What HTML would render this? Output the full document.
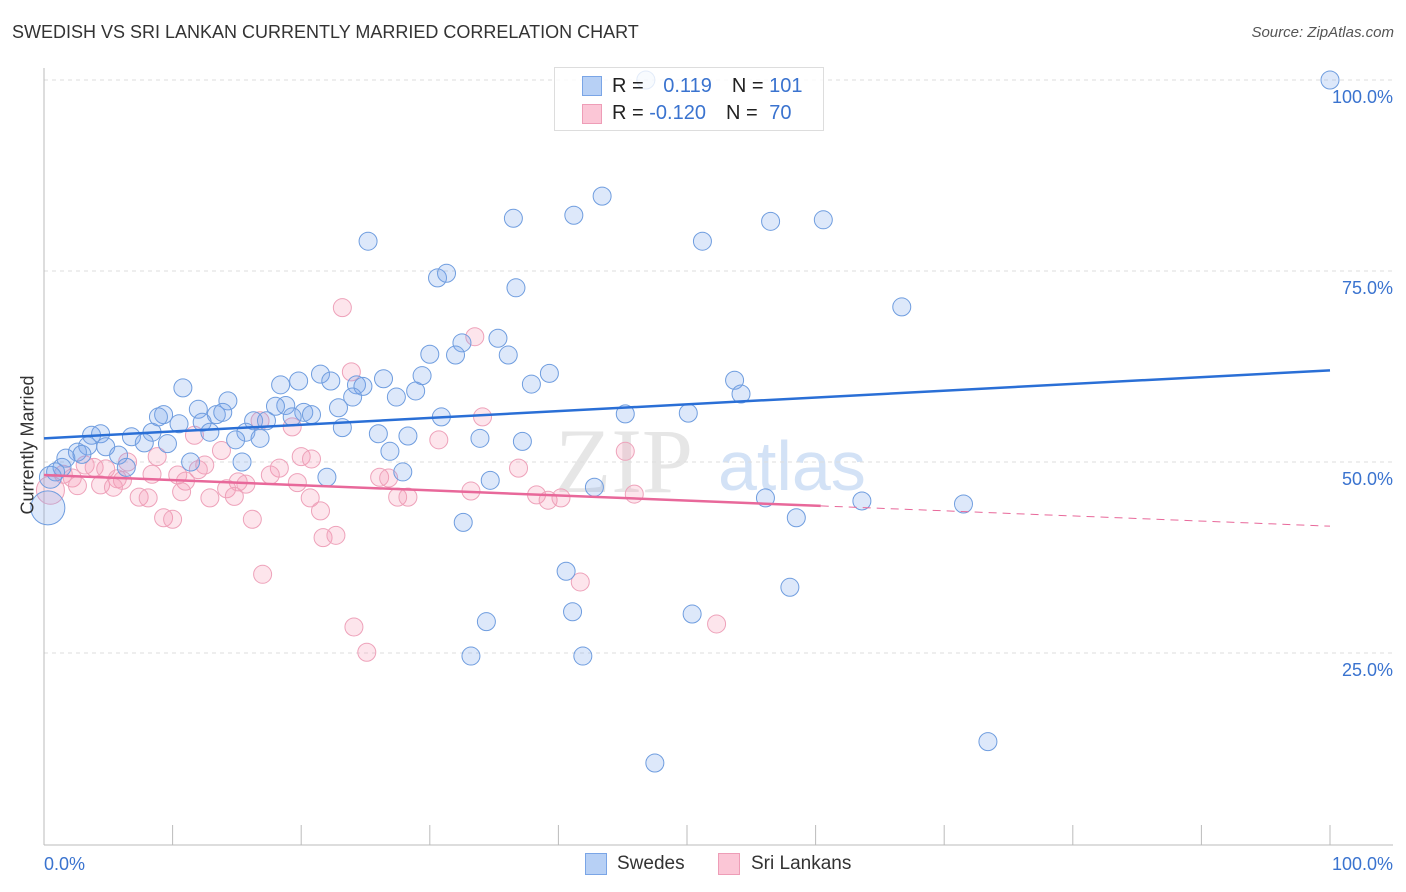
<!DOCTYPE html>
<html><head><meta charset="utf-8"><style>
body{margin:0;background:#fff;font-family:"Liberation Sans",sans-serif;}
#c{position:relative;width:1406px;height:892px;overflow:hidden}
.t{position:absolute;white-space:nowrap}
</style></head><body>
<div id="c">
<div class="t" style="left:12px;top:22px;font-size:18px;color:#333">SWEDISH VS SRI LANKAN CURRENTLY MARRIED CORRELATION CHART</div>
<div class="t" style="right:12px;top:24px;font-size:15px;color:#555;font-style:italic">Source: ZipAtlas.com</div>
<svg id="s" width="1406" height="892" style="position:absolute;left:0;top:0">
<text x="555" y="492" font-size="92" font-family="Liberation Serif" fill="#e6e6e6">ZIP</text>
<text x="718" y="490" font-size="70" fill="#d3e2f6">atlas</text>
</svg>
<div class="t" style="left:-32px;top:444px;font-size:18px;color:#333;transform:rotate(-90deg);transform-origin:center;width:120px;text-align:center">Currently Married</div>
<div style="position:absolute;left:554px;top:67px;width:268px;height:62px;border:1px solid #ddd;background:rgba(255,255,255,0.8)">
<div style="position:absolute;left:27px;top:8px;width:18px;height:18px;background:#b7d0f5;border:1px solid #7aa5e6"></div>
<div class="t" style="left:57px;top:7px;font-size:20px;color:#222">R = <span style="color:#3a73cf;margin-left:14px">0.119</span><span style="margin-left:20px">N = </span><span style="color:#3a73cf">101</span></div>
<div style="position:absolute;left:27px;top:36px;width:18px;height:18px;background:#fbc6d6;border:1px solid #ee9db7"></div>
<div class="t" style="left:57px;top:34px;font-size:20px;color:#222">R = <span style="color:#3a73cf">-0.120</span><span style="margin-left:20px">N = </span><span style="color:#3a73cf;margin-left:6px">70</span></div>
</div>
<div>
<div style="position:absolute;left:585px;top:853px;width:20px;height:20px;background:#b7d0f5;border:1px solid #7aa5e6"></div>
<div class="t" style="left:617px;top:853px;font-size:19px;color:#333">Swedes</div>
<div style="position:absolute;left:718px;top:853px;width:20px;height:20px;background:#fbc6d6;border:1px solid #ee9db7"></div>
<div class="t" style="left:751px;top:853px;font-size:19px;color:#333">Sri Lankans</div>
</div>
</div>
<script>
const blueX=[46.8,100,43.4,41.2,36.5,56.5,60.6,25.2,51.2,30.6,31.3,36.7,66.7,35.3,32.5,30.0,32.0,36.1,39.3,29.4,21.5,26.4,53.7,19.8,22.3,24.3,24.8,37.9,54.2,18.4,10.8,28.9,14.3,18.8,18.0,27.4,24.0,22.9,12.0,9.3,8.9,13.4,13.9,20.2,20.8,19.3,30.9,45.2,50.1,12.3,16.3,17.3,10.5,23.2,8.4,12.9,15.7,3.7,4.4,6.8,26.0,28.3,33.9,37.2,14.9,16.8,3.4,4.8,7.8,9.6,26.9,2.6,2.95,5.8,1.7,11.4,15.4,6.4,1.4,0.9,27.9,22.0,34.7,42.8,56.1,63.6,71.5,58.5,32.6,40.6,58.0,41.1,50.4,34.4,33.2,41.9,73.4,47.5,0.3,0.5];
const blueY=[100,100,84.8,82.3,81.9,81.5,81.7,78.9,78.9,74.1,74.7,72.8,70.3,66.2,65.6,64.1,64.0,64.0,61.6,61.3,61.5,60.9,60.7,60.6,60.6,60.1,59.9,60.2,58.9,60.1,59.7,59.3,58.0,57.4,57.3,58.5,58.5,57.1,56.9,56.2,55.9,56.2,56.5,56.5,56.2,55.9,55.9,56.3,56.4,55.2,55.4,55.4,55.0,54.5,53.9,53.9,53.9,53.5,53.7,53.3,53.7,53.4,53.1,52.7,52.9,53.1,52.1,52.0,52.5,52.4,51.4,51.3,51.0,50.9,50.5,50.0,50.0,49.3,49.3,48.7,48.7,48.0,47.6,46.7,45.3,44.9,44.5,42.7,42.1,35.7,33.6,30.4,30.1,29.1,24.6,24.6,13.4,10.6,44.0,48.0];
const blueR=[9,9,9,9,9,9,9,9,9,9,9,9,9,9,9,9,9,9,9,9,9,9,9,9,9,9,9,9,9,9,9,9,9,9,9,9,9,9,9,9,9,9,9,9,9,9,9,9,9,9,9,9,9,9,9,9,9,9,9,9,9,9,9,9,9,9,9,9,9,9,9,9,9,9,9,9,9,9,9,9,9,9,9,9,9,9,9,9,9,9,9,9,9,9,9,9,9,9,17,11];
const pinkX=[23.2,33.5,23.9,16.8,34.1,19.3,11.7,30.7,45.2,13.8,8.8,20.0,20.8,6.5,12.5,3.2,3.9,4.8,18.3,36.9,12.0,8.4,10.4,17.6,26.1,26.8,1.5,2.2,5.7,11.0,6.1,15.1,15.7,19.7,4.4,2.6,5.4,14.2,10.7,33.2,38.3,12.9,14.8,7.4,8.1,27.5,28.3,20.7,39.2,40.2,45.9,21.5,9.3,10.0,16.2,21.7,22.7,17.0,41.7,24.1,52.3,25.1,0.5];
const pinkY=[70.2,66.4,61.8,55.4,55.9,54.6,53.5,52.9,51.4,51.5,50.7,50.7,50.4,50.0,49.6,49.6,49.3,49.1,49.2,49.2,49.0,48.4,48.3,48.3,48.0,47.9,48.4,47.9,47.8,47.5,47.6,47.4,47.1,47.3,47.0,46.9,46.7,46.5,46.1,46.2,45.7,45.3,45.5,45.4,45.3,45.4,45.4,45.3,45.0,45.3,45.8,43.6,42.7,42.5,42.5,40.1,40.4,35.3,34.3,28.4,28.8,25.1,46.3];
const pinkR=[9,9,9,9,9,9,9,9,9,9,9,9,9,9,9,9,9,9,9,9,9,9,9,9,9,9,9,9,9,9,9,9,9,9,9,9,9,9,9,9,9,9,9,9,9,9,9,9,9,9,9,9,9,9,9,9,9,9,9,9,9,9,14];
const blueTrend=[53.1,62.0];
const pinkTrend=[48.3,41.6];
const pinkSolidEnd=60.4;
const yTicks=[25,50,75,100];
const yTickLabels=["25.0%","50.0%","75.0%","100.0%"];
const xTicks=[0,10,20,30,40,50,60,70,80,90,100];
const NS="http://www.w3.org/2000/svg";
const s=document.getElementById('s');
const X=v=>44+v*12.86, Y=v=>844-v*7.64;
function mk(tag,at,parent){const e=document.createElementNS(NS,tag);for(const k in at)e.setAttribute(k,at[k]);(parent||s).appendChild(e);return e;}
yTicks.forEach((t,i)=>{
 const g=mk('line',{x1:44,x2:1393,y1:Y(t),y2:Y(t),stroke:'#ddd','stroke-dasharray':'4,4'});
 
 
 const tx=mk('text',{x:1393,y:Y(t)+23,'text-anchor':'end','font-size':18,fill:'#3a73cf'});
 tx.textContent=yTickLabels[i];
 
 
});
const ax=mk('line',{x1:44,x2:1393,y1:845,y2:845,stroke:'#bbb'});


const ay=mk('line',{x1:44,x2:44,y1:68,y2:845,stroke:'#bbb'});


xTicks.forEach(t=>{const l=mk('line',{x1:X(t),x2:X(t),y1:825,y2:845,stroke:'#bbb'});
 
 });
const xl=mk('text',{x:44,y:870,'font-size':18,fill:'#3a73cf'});xl.textContent='0.0%';


const xr=mk('text',{x:1393,y:870,'font-size':18,fill:'#3a73cf','text-anchor':'end'});xr.textContent='100.0%';


pinkX.forEach((v,i)=>{const c=mk('circle',{cx:X(v),cy:Y(pinkY[i]),r:pinkR[i],fill:'rgba(246,150,180,0.25)',stroke:'#eea2ba','stroke-width':1});
 
 });
blueX.forEach((v,i)=>{const c=mk('circle',{cx:X(v),cy:Y(blueY[i]),r:blueR[i],fill:'rgba(120,165,235,0.25)',stroke:'#6f9ddf','stroke-width':1});
 
 });
const bt=mk('line',{x1:X(0),y1:Y(blueTrend[0]),x2:X(100),y2:Y(blueTrend[1]),stroke:'#2a6fd6','stroke-width':2.5});


const pm=pinkTrend[0]+(pinkTrend[1]-pinkTrend[0])*pinkSolidEnd/100;
const pt=mk('line',{x1:X(0),y1:Y(pinkTrend[0]),x2:X(pinkSolidEnd),y2:Y(pm),stroke:'#e8689a','stroke-width':2.5});


const pd=mk('line',{x1:X(pinkSolidEnd),y1:Y(pm),x2:X(100),y2:Y(pinkTrend[1]),stroke:'#e8689a','stroke-width':1,'stroke-dasharray':'8,6'});


</script>
</body></html>
